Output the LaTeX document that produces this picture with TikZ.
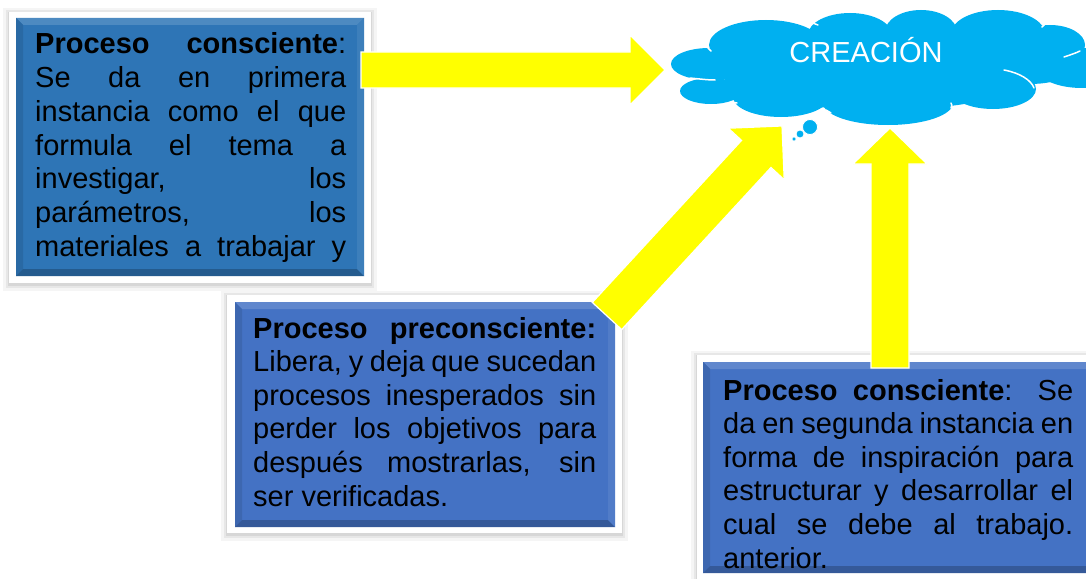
\documentclass[tikz,border=0pt]{standalone}
\usepackage{fontspec}
\setmainfont{Liberation Sans}
\usetikzlibrary{calc}
\definecolor{boxA}{HTML}{2E75B6}
\definecolor{boxB}{HTML}{4472C4}
\definecolor{cloudblue}{HTML}{00B0F0}
\definecolor{arrowyellow}{HTML}{FFFF00}
\tikzset{
  blockarrow/.style={fill=arrowyellow, draw=white, line width=1.2pt, line join=miter},
  cloudlobe/.style={fill=cloudblue},
  lobeedge/.style={draw=white, line width=1.5pt, line cap=round},
  boxtext/.style={inner sep=0pt, anchor=base west, text=black},
}
\newcommand\blockarrow[5]{%
  \coordinate (ba-h) at ($(#2)!#5!(#1)$);
  \filldraw[blockarrow] ($(#1)!#3!90:(#2)$) -- ($(ba-h)!#3!90:(#2)$) -- ($(ba-h)!#4!90:(#2)$) -- (#2) -- ($(ba-h)!#4!-90:(#2)$) -- ($(ba-h)!#3!-90:(#2)$) -- ($(#1)!#3!-90:(#2)$) -- cycle;}
% #1 x1, #2 y1, #3 x2, #4 y2 of white frame; #5..#8 blue area; #9 colour
\newcommand\framedbox[9]{%
  \fill[black, opacity=0.04] (#1-6,#2-4) rectangle (#3+6,#4+8);
  \fill[black, opacity=0.06] (#1-3,#2-2) rectangle (#3+3,#4+5);
  \fill[black, opacity=0.07] (#1-1,#2) rectangle (#3+1,#4+3);
  \fill[white] (#1,#2) rectangle (#3,#4);
  \fill[#9] (#5,#6) rectangle (#7,#8);
  \fill[#9!85!white] (#5,#6) -- (#7,#6) -- (#7-7,#6+7) -- (#5+7,#6+7) -- cycle;
  \fill[#9!90!black] (#5,#6) -- (#5+7,#6+7) -- (#5+7,#8-7) -- (#5,#8) -- cycle;
  \fill[#9!78!black] (#5,#8) -- (#5+7,#8-7) -- (#7-7,#8-7) -- (#7,#8) -- cycle;
  \fill[#9!93!white] (#7,#6) -- (#7-7,#6+7) -- (#7-7,#8-7) -- (#7,#8) -- cycle;
}
\newcommand\jline[1]{\makebox[\linewidth][s]{\strut #1}\\}
\newcommand\lline[1]{\makebox[\linewidth][l]{\strut #1}}
\begin{document}
\begin{tikzpicture}[x=1pt, y=-1pt]
\useasboundingbox (0,0) rectangle (1086,578);
\clip (0,0) rectangle (1086,578);

% boxes
\framedbox{9}{12}{371}{283}{16}{18}{364}{276}{boxA}
\framedbox{227}{295}{622}{533}{235}{302}{615}{527}{boxB}
\framedbox{697}{355}{1110}{580}{703}{362}{1100}{573}{boxB}

% texts
\node[boxtext] (t1) at (35,54) {\parbox[t]{311pt}{\fontsize{29}{33.7}\selectfont
 \jline{\textbf{Proceso consciente}:}
 \jline{Se da en primera}
 \jline{instancia como el que}
 \jline{formula el tema a}
 \jline{investigar, los}
 \jline{parámetros, los}
 \jline{materiales a trabajar y}}};
\node[boxtext] (t2) at (253,338) {\parbox[t]{343pt}{\fontsize{29}{33.6}\selectfont
 \jline{\textbf{Proceso preconsciente:}}
 \jline{Libera, y deja que sucedan}
 \jline{procesos inesperados sin}
 \jline{perder los objetivos para}
 \jline{después mostrarlas, sin}
 \lline{ser verificadas.}}};
\node[boxtext] (t3) at (723,400) {\parbox[t]{350pt}{\fontsize{29}{33.6}\selectfont
 \jline{\textbf{Proceso consciente}: Se}
 \jline{da en segunda instancia en}
 \jline{forma de inspiración para}
 \jline{estructurar y desarrollar el}
 \jline{cual se debe al trabajo.}
 \lline{anterior.}}};

% cloud
\fill[cloudlobe] (880,70) ellipse [x radius=160, y radius=40];
\fill[cloudlobe] (1030,62) ellipse [x radius=50, y radius=22];
\fill[cloudlobe] (709,64) ellipse [x radius=38, y radius=16];
\fill[cloudlobe] (711,91) ellipse [x radius=31, y radius=13];
\fill[cloudlobe] (766,45) ellipse [x radius=57, y radius=25];
\fill[cloudlobe] (850,35) ellipse [x radius=42, y radius=22];
\fill[cloudlobe] (921,32) ellipse [x radius=36, y radius=22];
\fill[cloudlobe] (998,34) ellipse [x radius=47, y radius=24];
\fill[cloudlobe] (1050,45) ellipse [x radius=35, y radius=20];
\fill[cloudlobe] (1082,68) ellipse [x radius=45, y radius=20];
\fill[cloudlobe] (993,89) ellipse [x radius=43, y radius=20];
\fill[cloudlobe] (888,103) ellipse [x radius=65, y radius=22];
\fill[cloudlobe] (781,97) ellipse [x radius=48, y radius=20];
% lobe edges
\draw[lobeedge] (690,78) .. controls (700,79) and (708,80) .. (715,80);
\draw[lobeedge] (708,48) .. controls (709,50) .. (711,51);
\draw[lobeedge] (810,22) .. controls (814,24) .. (818,25);
\draw[lobeedge] (886,18) .. controls (887,17) .. (889,16);
\draw[lobeedge] (954,16) .. controls (956,15) .. (958,14);
\draw[lobeedge] (1042,27) .. controls (1043,25) .. (1045,24);
\draw[lobeedge] (1064,57) .. controls (1070,55) and (1076,53) .. (1080,51);
\draw[lobeedge] (1004,70) .. controls (1020,73) and (1031,80) .. (1034,88);
\draw[lobeedge] (951,103) .. controls (952,105) .. (951,108);
\draw[lobeedge] (826,110) .. controls (828,111) .. (831,113);
\draw[lobeedge] (731,102) .. controls (734,103) .. (737,103);
\node[text=white, font=\fontsize{29}{34}\selectfont, anchor=base] (creacion) at (866,63) {CREACIÓN};
% thought bubbles
\fill[cloudblue, draw=white, line width=0.8pt] (810,127) circle [radius=7.5];
\fill[cloudblue, draw=white, line width=0.8pt] (800,134) circle [radius=4];
\fill[cloudblue, draw=white, line width=0.6pt] (794,139) circle [radius=2];

% arrows
\coordinate (a1s) at (361,70);
\coordinate (a1t) at (665,70);
\coordinate (a2s) at (607,316);
\coordinate (a2t) at (782,126);
\coordinate (a3s) at (890,368);
\coordinate (a3t) at (890,128);
\blockarrow{a1s}{a1t}{18pt}{35pt}{35pt}
\blockarrow{a2s}{a2t}{20pt}{38pt}{38pt}
\blockarrow{a3s}{a3t}{19pt}{37pt}{36pt}
\end{tikzpicture}
\end{document}
